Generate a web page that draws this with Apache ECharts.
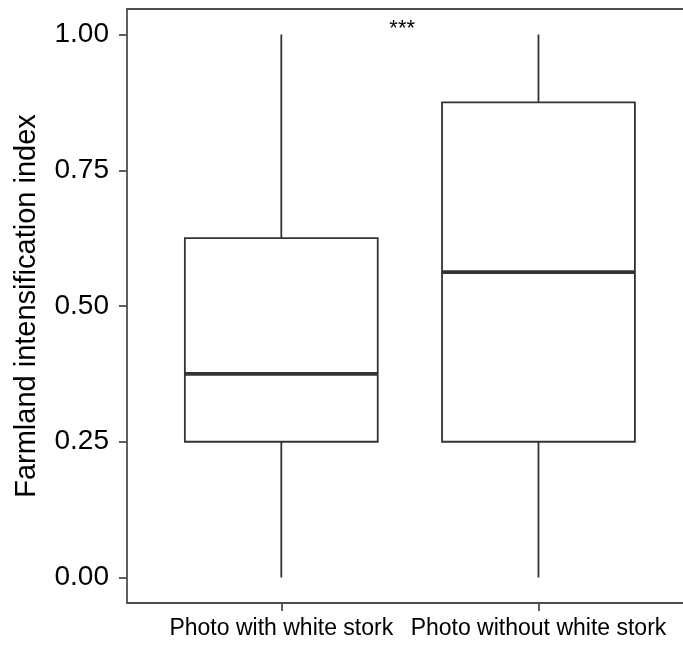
<!DOCTYPE html>
<html>
<head>
<meta charset="utf-8">
<script src="https://cdn.jsdelivr.net/npm/echarts@6/dist/echarts.min.js"></script>
<style>
html,body{margin:0;padding:0;background:#fff;}
#chart{width:683px;height:646px;}
</style>
</head>
<body>
<div id="chart"></div>
<script>
const categories = ['Photo with white stork', 'Photo without white stork'];
const whiskerLow = [0, 0];
const q1 = [0.25, 0.25];
const medians = [0.375, 0.5625];
const q3 = [0.625, 0.875];
const whiskerHigh = [1, 1];
const yTicks = [0, 0.25, 0.5, 0.75, 1];
const annotationText = '***';
const annotationPos = [1.47, 1.01];

const boxData = categories.map((c, i) => [i + 1, whiskerLow[i], q1[i], medians[i], q3[i], whiskerHigh[i]]);

const chart = echarts.init(document.getElementById('chart'));
const FONT = 'Liberation Sans, Arial, sans-serif';
const stroke = '#333333';
const axisCol = '#4d4d4d';
const X_MIN = 0.4, X_MAX = 2.562;

chart.setOption({
  animation: false,
  backgroundColor: '#ffffff',
  grid: { left: 127, top: 9, right: 0, height: 594, show: false },
  xAxis: [{
    type: 'value', min: X_MIN, max: X_MAX,
    splitLine: { show: false },
    axisLine: { show: true, onZero: false, lineStyle: { color: axisCol, width: 1.8 } },
    axisTick: { show: true, customValues: [1, 2], length: 8, lineStyle: { color: axisCol, width: 1.8 } },
    axisLabel: {
      customValues: [1, 2], margin: 14, color: '#000', fontFamily: FONT, fontSize: 23,
      formatter: v => categories[Math.round(v) - 1] || ''
    }
  }, {
    type: 'value', min: X_MIN, max: X_MAX, position: 'top',
    splitLine: { show: false },
    axisLine: { show: true, onZero: false, lineStyle: { color: axisCol, width: 1.8 } },
    axisTick: { show: false }, axisLabel: { show: false }
  }],
  yAxis: {
    type: 'value', min: -0.047, max: 1.047,
    splitLine: { show: false },
    axisLine: { show: true, onZero: false, lineStyle: { color: axisCol, width: 1.8 } },
    axisTick: { show: true, customValues: yTicks, length: 8, lineStyle: { color: axisCol, width: 1.8 } },
    axisLabel: {
      customValues: yTicks, margin: 18, color: '#000', fontFamily: FONT, fontSize: 28,
      formatter: v => Number(v).toFixed(2)
    },
    name: 'Farmland intensification index',
    nameLocation: 'middle', nameGap: 86,
    nameTextStyle: { color: '#000', fontFamily: FONT, fontSize: 29 }
  },
  series: [
    {
      type: 'custom',
      xAxisIndex: 0,
      data: boxData,
      renderItem: function (params, api) {
        const x = api.value(0);
        const halfW = api.size([0.75, 0])[0] / 2;
        const pLow = api.coord([x, api.value(1)]);
        const pQ1 = api.coord([x, api.value(2)]);
        const pMed = api.coord([x, api.value(3)]);
        const pQ3 = api.coord([x, api.value(4)]);
        const pHigh = api.coord([x, api.value(5)]);
        const lineStyle = { stroke: stroke, lineWidth: 1.8, fill: null };
        return {
          type: 'group',
          children: [
            { type: 'line', shape: { x1: pLow[0], y1: pLow[1], x2: pQ1[0], y2: pQ1[1] }, style: lineStyle },
            { type: 'line', shape: { x1: pQ3[0], y1: pQ3[1], x2: pHigh[0], y2: pHigh[1] }, style: lineStyle },
            { type: 'rect', shape: { x: pQ3[0] - halfW, y: pQ3[1], width: halfW * 2, height: pQ1[1] - pQ3[1] },
              style: { stroke: stroke, lineWidth: 1.8, fill: '#ffffff' } },
            { type: 'line', shape: { x1: pMed[0] - halfW, y1: pMed[1], x2: pMed[0] + halfW, y2: pMed[1] },
              style: { stroke: stroke, lineWidth: 3.8 } }
          ]
        };
      }
    },
    {
      type: 'custom',
      xAxisIndex: 0,
      data: [[annotationPos[0], annotationPos[1], annotationText]],
      renderItem: function (params, api) {
        const p = api.coord([api.value(0), api.value(1)]);
        return {
          type: 'text',
          x: p[0], y: p[1],
          style: { text: annotationText, fill: '#000', fontFamily: FONT, fontSize: 22, align: 'center', verticalAlign: 'middle' }
        };
      }
    }
  ]
});
</script>
</body>
</html>
